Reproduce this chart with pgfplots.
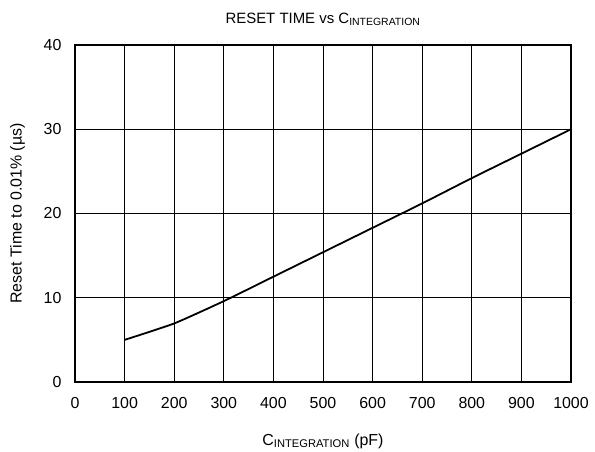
\documentclass[border=0pt]{standalone}
\usepackage{fontspec}
\setmainfont{Liberation Sans}
\usepackage{pgfplots}
\pgfplotsset{compat=1.18}
\begin{document}
\begin{tikzpicture}
\path (-75bp,-70bp) rectangle (520bp,382bp);
\begin{axis}[
  scale only axis,
  width=496bp, height=337bp,
  xmin=0, xmax=1000, ymin=0, ymax=40,
  xtick={0,100,...,1000}, ytick={0,10,20,30,40},
  grid=major,
  major grid style={black, line width=1bp},
  axis line style={black, line width=1.8bp},
  tick style={draw=none},
  /pgf/number format/assume math mode=true,
  /pgf/number format/set thousands separator={},
  tick label style={font=\fontsize{16}{18}\selectfont},
  label style={font=\fontsize{16}{18}\selectfont},
  title style={font=\fontsize{15}{17}\selectfont, yshift=10bp},
  title={RESET TIME vs C\textsubscript{INTEGRATION}},
  xlabel={C\textsubscript{INTEGRATION} (pF)},
  ylabel={Reset Time to 0.01\% (µs)},
  xticklabel style={yshift=-12bp},
  yticklabel style={xshift=-10bp},
  xlabel style={yshift=-18bp},
  ylabel style={yshift=12bp},
]
\addplot[black, line width=1.8bp, smooth, tension=0.3] coordinates {
(100,5.0) (200,6.95) (300,9.6) (400,12.5) (500,15.4) (600,18.3) (700,21.2) (800,24.2) (900,27.1) (1000,30.0)
};
\end{axis}
\end{tikzpicture}
\end{document}
